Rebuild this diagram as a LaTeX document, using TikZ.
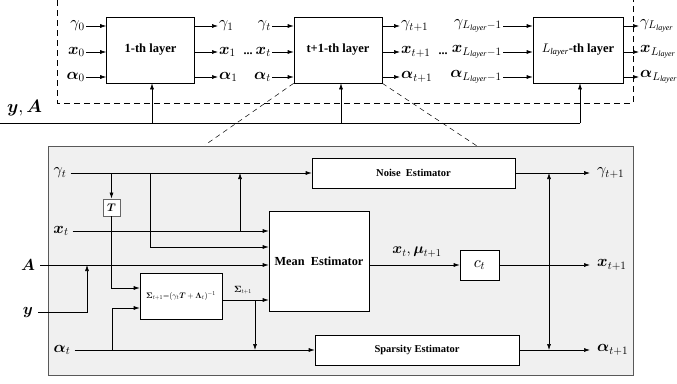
\documentclass[tikz,border=0pt]{standalone}
\usepackage{amsmath,bm}
\usepackage{fontspec}
\setmainfont{Liberation Serif}
\usetikzlibrary{arrows.meta,calc}
% scalable Computer Modern math fonts
\DeclareFontShape{OML}{cmm}{m}{it}{<-> cmmi10}{}
\DeclareFontShape{OML}{cmm}{b}{it}{<-> cmmib10}{}
\DeclareFontShape{OMS}{cmsy}{m}{n}{<-> cmsy10}{}
\DeclareFontShape{OMS}{cmsy}{b}{n}{<-> cmbsy10}{}
\DeclareFontShape{OT1}{cmr}{m}{n}{<-> cmr10}{}
\DeclareFontShape{OT1}{cmr}{bx}{n}{<-> cmbx10}{}

\begin{document}
\begin{tikzpicture}[x=1pt,y=-1pt,
  >={Latex[length=6pt,width=4pt]},
  wire/.style={line width=0.6pt},
  blk/.style={draw, fill=white, line width=0.6pt, inner sep=0pt},
  layerbox/.style={blk, minimum width=88pt, minimum height=66pt, font=\fontsize{12.5}{14}\selectfont\bfseries},
  estbox/.style={blk, minimum height=30pt, font=\fontsize{10.5}{12}\selectfont\bfseries},
  lbl/.style={inner sep=1pt, font=\fontsize{16}{18}\selectfont},
  dots/.style={inner sep=0pt, font=\fontsize{12}{13}\selectfont\bfseries},
]
\useasboundingbox (0,0) rectangle (677,383);

%% ---------------- unfolded network ----------------
\draw[dashed, line width=0.6pt, dash pattern=on 6pt off 4pt] (57,-10) rectangle (633,103);

\node[layerbox] (L1) at (150.5,50) {1-th layer};
\node[layerbox] (Lt) at (338,50) {t+1-th layer};
\node[layerbox, minimum width=90pt] (LL) at (578,50) {$L_{\mathit{layer}}$-th layer};

% inputs of the first layer
\node[lbl, anchor=east] (g0) at (86,26) {$\gamma_0$};
\node[lbl, anchor=east] (x0) at (86,52) {$\bm{x}_0$};
\node[lbl, anchor=east] (a0) at (86,77) {$\bm{\alpha}_0$};
\foreach \n in {g0,x0,a0} \draw[wire,->] (\n.east) -- (\n.east -| L1.west);

% outputs of the first layer
\node[lbl, anchor=west] (g1) at (218,26) {$\gamma_1$};
\node[lbl, anchor=west] (x1) at (218,52) {$\bm{x}_1$};
\node[lbl, anchor=west] (a1) at (218,77) {$\bm{\alpha}_1$};
\foreach \n in {g1,x1,a1} \draw[wire,->] (\n.west -| L1.east) -- (\n.west);
\node[dots] (d1) at (248,54) {...};

% inputs of layer t+1
\node[lbl, anchor=east] (gt) at (272,26) {$\gamma_t$};
\node[lbl, anchor=east] (xt) at (272,52) {$\bm{x}_t$};
\node[lbl, anchor=east] (at) at (272,77) {$\bm{\alpha}_t$};
\foreach \n in {gt,xt,at} \draw[wire,->] (\n.east) -- (\n.east -| Lt.west);

% outputs of layer t+1
\node[lbl, anchor=west] (gt1) at (400,26) {$\gamma_{t+1}$};
\node[lbl, anchor=west] (xt1) at (400,52) {$\bm{x}_{t+1}$};
\node[lbl, anchor=west] (at1) at (400,77) {$\bm{\alpha}_{t+1}$};
\foreach \n in {gt1,xt1,at1} \draw[wire,->] (\n.west -| Lt.east) -- (\n.west);
\node[dots] (d2) at (443,54) {...};

% inputs of the last layer
\node[lbl, anchor=east] (gl) at (503,26) {$\gamma_{L_{\mathit{layer}}-1}$};
\node[lbl, anchor=east] (xl) at (503,52) {$\bm{x}_{L_{\mathit{layer}}-1}$};
\node[lbl, anchor=east] (al) at (503,77) {$\bm{\alpha}_{L_{\mathit{layer}}-1}$};
\foreach \n in {gl,xl,al} \draw[wire,->] (\n.east) -- (\n.east -| LL.west);

% outputs of the last layer
\node[lbl, anchor=west] (gL) at (639,26) {$\gamma_{L_{\mathit{layer}}}$};
\node[lbl, anchor=west] (xL) at (639,52) {$\bm{x}_{L_{\mathit{layer}}}$};
\node[lbl, anchor=west] (aL) at (639,77) {$\bm{\alpha}_{L_{\mathit{layer}}}$};
\foreach \n in {gL,xL,aL} \draw[wire,->] (\n.west -| LL.east) -- (\n.west);

% shared measurement bus
\node[inner sep=1pt, font=\fontsize{18}{20}\selectfont, anchor=west] (yA) at (6,108) {$\bm{y},\bm{A}$};
\coordinate (bus0) at (0,123);
\coordinate (busE) at (580,123);
\draw[wire] (bus0) -- (busE);
\path (L1.south) ++(1.5,0) coordinate (b1);
\path (Lt.south) ++(3,0) coordinate (b2);
\path (LL.south) ++(2,0) coordinate (b3);
\foreach \b in {b1,b2,b3} \draw[wire,->] (\b |- bus0) -- (\b);

%% ---------------- detail of one layer ----------------
\coordinate (zl) at (205,145);
\coordinate (zr) at (477,146);
\draw[dashed, line width=0.5pt, dash pattern=on 5pt off 4pt] (Lt.south west) -- (zl);
\draw[dashed, line width=0.5pt, dash pattern=on 5pt off 4pt] (Lt.south east) -- (zr);

\node[draw=black!65, fill=black!6, line width=1pt, minimum width=585pt, minimum height=229pt, inner sep=0pt] (panel) at (340.5,260.5) {};

\node[estbox, minimum width=203pt] (noise) at (413.5,173) {Noise\ \ Estimator};
\node[estbox, minimum width=204pt] (sparse) at (417,350) {Sparsity Estimator};
\node[blk, minimum width=100pt, minimum height=100pt, font=\fontsize{12.3}{14}\selectfont\bfseries] (mean) at (319,261) {Mean\ \ Estimator};
\node[blk, draw=black!60, line width=0.9pt, minimum width=17pt, minimum height=17pt, font=\fontsize{11}{12}\selectfont] (T) at (111.5,207.5) {$\bm{T}$};
\node[blk, minimum width=82pt, minimum height=46pt, font=\fontsize{8}{9}\selectfont] (sig) at (181,296) {$\bm{\Sigma}_{t+1}{=}(\gamma_t\bm{T}+\bm{\Lambda}_t)^{-1}$};
\node[blk, minimum width=39pt, minimum height=30pt, font=\fontsize{16}{17}\selectfont] (ct) at (479.5,265) {$c_t$};

% input labels
\node[lbl] (ig) at (60,173) {$\gamma_t$};
\node[lbl] (ix) at (61,231) {$\bm{x}_t$};
\node[lbl] (iA) at (28,265) {$\bm{A}$};
\node[lbl] (iy) at (28,312) {$\bm{y}$};
\node[lbl] (ia) at (62,350) {$\bm{\alpha}_t$};

% gamma_t path and its branches
\coordinate (gEnd) at ($(ig.east)+(3,0)$);
\draw[wire,->] (gEnd) -- (noise.west);
\draw[wire,->] (T.north |- noise.west) -- (T.north);
\coordinate (gm) at (150,173);
\draw[wire,->] (gm) |- ($(mean.west)+(0,-14)$);
\draw[wire,->] (T.south) |- ($(sig.west)+(0,-8)$);

% x_t path, also fed to the noise estimator
\draw[wire,->] ($(ix.east)+(3,0)$) -- ($(mean.west)+(0,-30)$);
\coordinate (xj) at (240,231);
\draw[wire,->] (xj) -- (xj |- noise.west);

% A and y
\draw[wire,->] ($(iA.east)+(4,0)$) -- ($(mean.west)+(0,4)$);
\coordinate (yj) at (87,265);
\draw[wire,->] ($(iy.east)+(4,0)$) -| (yj);

% covariance update
\draw[wire,->] ($(sig.east)+(0,4)$) -- ($(mean.west)+(0,39)$);
\node[inner sep=1pt, font=\fontsize{9}{10}\selectfont] (sl) at (243,290) {$\bm{\Sigma}_{t+1}$};
\coordinate (sj) at (255,300);
\draw[wire,->] (sj) -- (sj |- sparse.west);

% alpha_t path
\draw[wire,->] ($(ia.east)+(3,0)$) -- (sparse.west);
\coordinate (aj) at (112,350);
\draw[wire,->] (aj) |- ($(sig.west)+(0,12)$);

% mean estimator to c_t
\draw[wire,->] (mean.east |- ct.west) -- (ct.west);
\node[inner sep=1pt, font=\fontsize{15}{16}\selectfont] (ml) at (417,252) {$\bm{x}_t,\bm{\mu}_{t+1}$};

% outputs
\node[lbl, anchor=west] (og) at (596,173) {$\gamma_{t+1}$};
\node[lbl, anchor=west] (ox) at (596,265) {$\bm{x}_{t+1}$};
\node[lbl, anchor=west] (oa) at (596,350) {$\bm{\alpha}_{t+1}$};
\draw[wire,->] (noise.east) -- ($(og.west)+(-6,0)$);
\draw[wire,->] (ct.east) -- ($(ox.west)+(-6,0)$);
\draw[wire,->] (sparse.east) -- ($(oa.west)+(-6,0)$);
\coordinate (vj) at (549,260);
\draw[wire,<->] (vj |- sparse.east) -- (vj |- noise.east);
\end{tikzpicture}
\end{document}
